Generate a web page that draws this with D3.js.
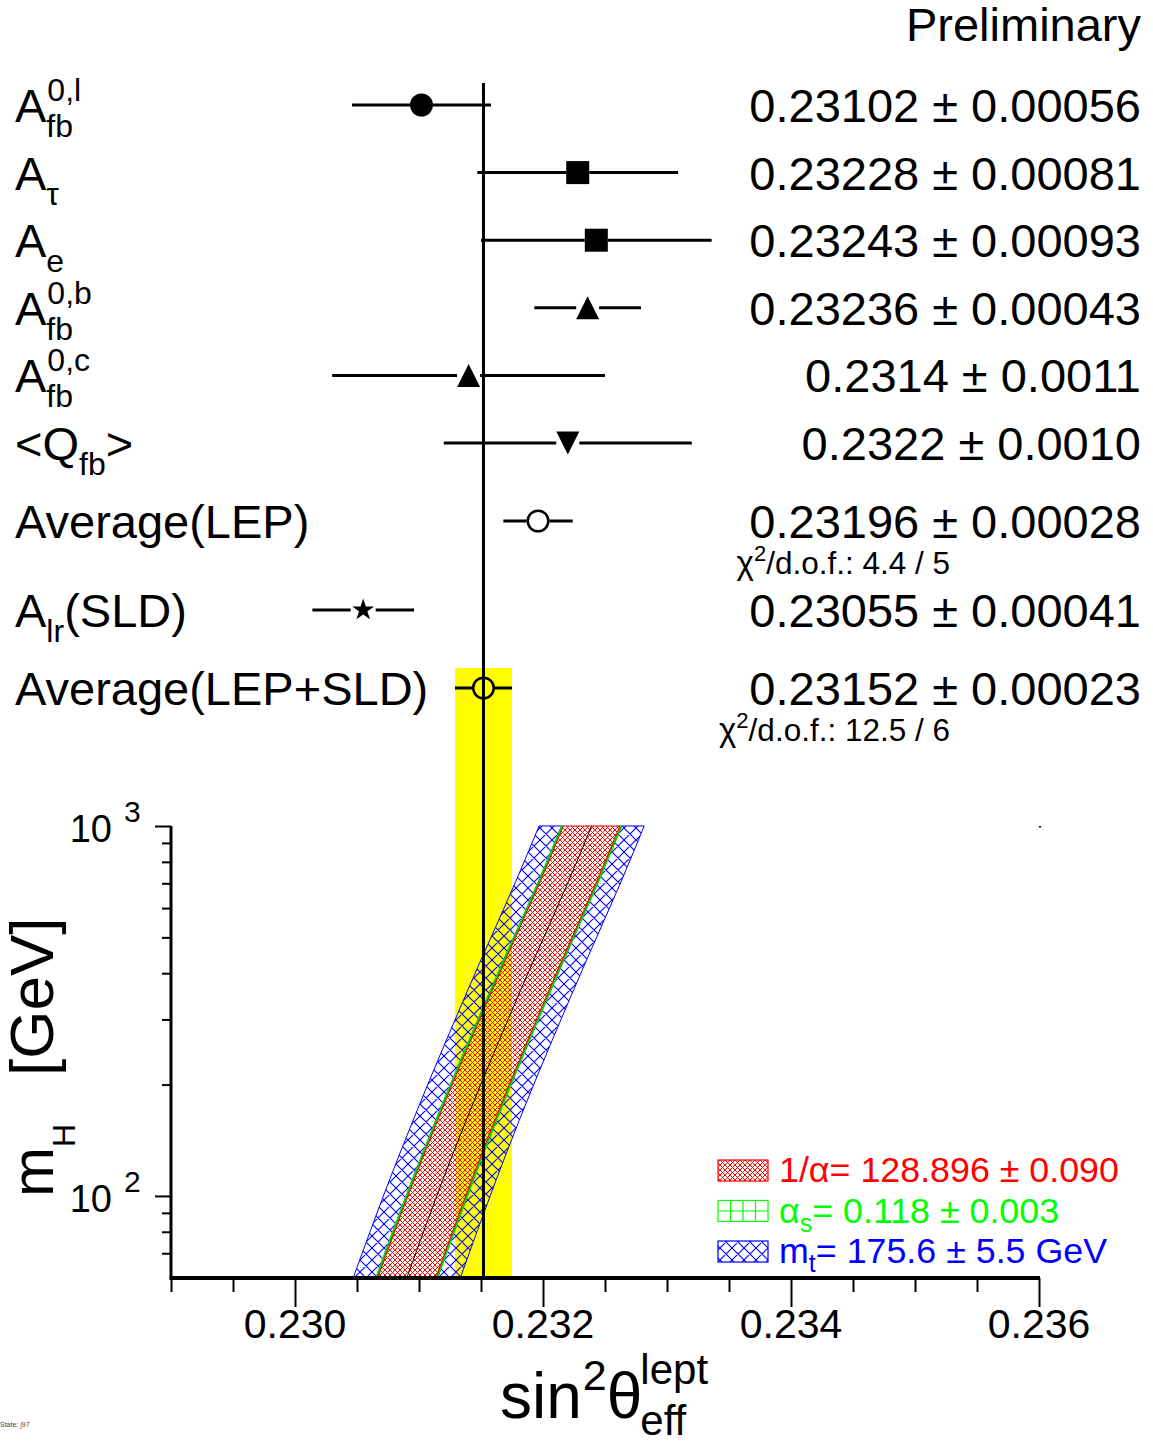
<!DOCTYPE html>
<html>
<head>
<meta charset="utf-8">
<script src="https://cdn.jsdelivr.net/npm/d3@7"></script>
<style>
  html, body { margin: 0; padding: 0; background: #fff; }
  svg { display: block; font-family: "Liberation Sans", Arial, Helvetica, sans-serif; }
</style>
</head>
<body>
<svg id="chart" width="1153" height="1442"></svg>
<script>
// ---- sin^2(theta_eff^lept) determinations ----
const measLabels = [
  { base: "A", sup: "0,l", sub: "fb" },
  { base: "A", sub: "τ" },
  { base: "A", sub: "e" },
  { base: "A", sup: "0,b", sub: "fb" },
  { base: "A", sup: "0,c", sub: "fb" },
  { base: "<Q", sub: "fb", tail: ">" },
  { base: "Average(LEP)" },
  { base: "A", sub: "lr", tail: "(SLD)" },
  { base: "Average(LEP+SLD)" }
];
const measValues   = [0.23102, 0.23228, 0.23243, 0.23236, 0.2314, 0.2322, 0.23196, 0.23055, 0.23152];
const measErrors   = [0.00056, 0.00081, 0.00093, 0.00043, 0.0011, 0.0010, 0.00028, 0.00041, 0.00023];
const measDecimals = [5, 5, 5, 5, 4, 4, 5, 5, 5];
const measMarkers  = ["circle", "square", "square", "triangleUp", "triangleUp", "triangleDown", "openCircle", "star", "openCircle"];
const measIsAverage = [false, false, false, false, false, false, true, false, true];
const measChi2     = [null, null, null, null, null, null, "4.4 / 5", null, "12.5 / 6"];

// ---- Standard Model prediction versus Higgs mass ----
const mhGrid    = [60, 110, 160, 264, 434, 714, 1000];
const smCentre  = [0.230901, 0.231190, 0.231380, 0.231648, 0.231925, 0.232210, 0.232392];
const halfAlpha = [0.000236, 0.000234, 0.000232, 0.000231, 0.000230, 0.000229, 0.000230];
const halfAlphaS = [0.000248, 0.000246, 0.000244, 0.000243, 0.000242, 0.000241, 0.000242];
const halfMt    = [0.000432, 0.000430, 0.000428, 0.000427, 0.000426, 0.000425, 0.000424];

const legendEntries = [
  { pre: "1/α", sub: "",  rest: "= 128.896 ± 0.090", colour: "#ff0000", kind: "alpha" },
  { pre: "α",   sub: "s", rest: "= 0.118 ± 0.003",   colour: "#00ff00", kind: "alphas" },
  { pre: "m",   sub: "t", rest: "= 175.6 ± 5.5 GeV", colour: "#0000ff", kind: "mt" }
];

const xMajorTicks = [0.230, 0.232, 0.234, 0.236];
const xMinorTicks = [0.229, 0.2295, 0.2305, 0.231, 0.2315, 0.2325, 0.233, 0.2335, 0.2345, 0.235, 0.2355];
const yMajorTicks = [100, 1000];
const yMajorExp   = ["2", "3"];
const yMinorTicks = [70, 80, 90, 200, 300, 400, 500, 600, 700, 800, 900];

// ------------------------------------------------------------------
const svg = d3.select("#chart");
const defs = svg.append("defs");

const x = d3.scaleLinear().domain([0.229, 0.236]).range([171, 1039]);
const y = d3.scaleLog().domain([60, 1000]).range([1278, 826]);

// cross-hatch fill patterns
function crossHatch(id, p, colour, sw) {
  const pat = defs.append("pattern").attr("id", id)
    .attr("patternUnits", "userSpaceOnUse").attr("width", p).attr("height", p);
  pat.append("path")
    .attr("d", `M0,0L${p},${p}M-1,${p - 1}L1,${p + 1}M${p - 1},-1L${p + 1},1` +
               `M0,${p}L${p},0M-1,1L1,-1M${p - 1},${p + 1}L${p + 1},${p - 1}`)
    .attr("stroke", colour).attr("stroke-width", sw).attr("fill", "none");
}
crossHatch("hatchRed", 5, "#ff0000", 1.0);
crossHatch("hatchBlue", 12, "#0000ff", 1.1);
{
  const pat = defs.append("pattern").attr("id", "gridGreen")
    .attr("patternUnits", "userSpaceOnUse").attr("width", 12).attr("height", 10);
  pat.append("path").attr("d", "M0.5,0V10M0,0.5H12")
    .attr("stroke", "#00ff00").attr("stroke-width", 1).attr("fill", "none");
}

// ---- row layout of the upper panel ----
const rowStep = 67.6;
const rowY = [];
{
  let yy = 105;
  measValues.forEach((v, i) => {
    if (i > 0) {
      yy += rowStep;
      if (measIsAverage[i]) yy += 10.4;
      if (measChi2[i - 1]) yy += 21.4;
    }
    rowY.push(yy);
  });
}

const xRef = x(measValues[8]);
const refErr = measErrors[8];

// yellow band of the combined average
svg.append("rect")
  .attr("x", x(measValues[8] - refErr))
  .attr("width", x(measValues[8] + refErr) - x(measValues[8] - refErr))
  .attr("y", rowY[8] - 20)
  .attr("height", y(60) - (rowY[8] - 20))
  .attr("fill", "#ffff00");

// ---- SM bands ----
const pts = mhGrid.map((m, i) => ({
  m, c: smCentre[i], a: halfAlpha[i], s: halfAlphaS[i], t: halfMt[i]
}));
const bandArea = (lo, hi) => d3.area()
  .y(d => y(d.m)).x0(d => x(lo(d))).x1(d => x(hi(d)))
  .curve(d3.curveMonotoneY)(pts);

const bands = svg.append("g");
// m_t band (outer strips)
bands.append("path").attr("d", bandArea(d => d.c - d.t, d => d.c - d.s))
  .attr("fill", "url(#hatchBlue)").attr("stroke", "#0000ff").attr("stroke-width", 1);
bands.append("path").attr("d", bandArea(d => d.c + d.s, d => d.c + d.t))
  .attr("fill", "url(#hatchBlue)").attr("stroke", "#0000ff").attr("stroke-width", 1);
// alpha_s band (thin strips)
bands.append("path").attr("d", bandArea(d => d.c - d.s, d => d.c - d.a))
  .attr("fill", "url(#gridGreen)").attr("stroke", "#00dd00").attr("stroke-width", 1.5);
bands.append("path").attr("d", bandArea(d => d.c + d.a, d => d.c + d.s))
  .attr("fill", "url(#gridGreen)").attr("stroke", "#00dd00").attr("stroke-width", 1.5);
// alpha band (inner)
bands.append("path").attr("d", bandArea(d => d.c - d.a, d => d.c + d.a))
  .attr("fill", "url(#hatchRed)").attr("stroke", "#ff0000").attr("stroke-width", 1);
// central prediction
bands.append("path")
  .attr("d", d3.line().y(d => y(d.m)).x(d => x(d.c)).curve(d3.curveMonotoneY)(pts))
  .attr("fill", "none").attr("stroke", "#000").attr("stroke-width", 1);

// ---- measurements ----
const upper = svg.append("g");
const markerHalf = 11.5;

function drawMarker(g, kind, cx, cy) {
  const r = markerHalf;
  if (kind === "circle") {
    g.append("circle").attr("cx", cx).attr("cy", cy).attr("r", r).attr("fill", "#000");
  } else if (kind === "openCircle") {
    g.append("circle").attr("cx", cx).attr("cy", cy).attr("r", r - 1.2)
      .attr("fill", "none").attr("stroke", "#000").attr("stroke-width", 2.5);
  } else if (kind === "square") {
    g.append("rect").attr("x", cx - r).attr("y", cy - r).attr("width", 2 * r).attr("height", 2 * r).attr("fill", "#000");
  } else if (kind === "triangleUp") {
    g.append("path").attr("d", `M${cx - r},${cy + r}L${cx + r},${cy + r}L${cx},${cy - r}Z`).attr("fill", "#000");
  } else if (kind === "triangleDown") {
    g.append("path").attr("d", `M${cx - r},${cy - r}L${cx + r},${cy - r}L${cx},${cy + r}Z`).attr("fill", "#000");
  } else if (kind === "star") {
    g.append("path").attr("transform", `translate(${cx},${cy})`)
      .attr("d", d3.symbol().type(d3.symbolStar).size(150)()).attr("fill", "#000");
  }
}

measValues.forEach((v, i) => {
  const cy = rowY[i];
  const cx = x(v);
  const e = measErrors[i];
  const gap = measMarkers[i] === "star" ? 12.5 : markerHalf;
  upper.append("line").attr("x1", x(v - e)).attr("x2", cx - gap).attr("y1", cy).attr("y2", cy)
    .attr("stroke", "#000").attr("stroke-width", 3);
  upper.append("line").attr("x1", cx + gap).attr("x2", x(v + e)).attr("y1", cy).attr("y2", cy)
    .attr("stroke", "#000").attr("stroke-width", 3);
  drawMarker(upper, measMarkers[i], cx, cy);
});

// vertical reference line
svg.append("line").attr("x1", xRef).attr("x2", xRef).attr("y1", 83).attr("y2", y(60))
  .attr("stroke", "#000").attr("stroke-width", 3);

// labels on the left
const labelSize = 47, smallSize = 32;
measLabels.forEach((lab, i) => {
  const base = rowY[i] + 17;
  const t = upper.append("text").attr("x", 15).attr("y", base).attr("font-size", labelSize).text(lab.base);
  let xe = 15 + t.node().getComputedTextLength();
  let w = 0;
  if (lab.sup) {
    const s = upper.append("text").attr("x", xe + 1).attr("y", base - 21).attr("font-size", smallSize).text(lab.sup);
    w = Math.max(w, s.node().getComputedTextLength());
  }
  if (lab.sub) {
    const s = upper.append("text").attr("x", xe).attr("y", base + 15).attr("font-size", smallSize).text(lab.sub);
    w = Math.max(w, s.node().getComputedTextLength());
  }
  if (lab.tail) {
    upper.append("text").attr("x", xe + w).attr("y", base).attr("font-size", labelSize).text(lab.tail);
  }
});

// values on the right
measValues.forEach((v, i) => {
  const f = d3.format(`.${measDecimals[i]}f`);
  upper.append("text").attr("x", 1141).attr("y", rowY[i] + 17).attr("text-anchor", "end")
    .attr("font-size", labelSize).text(`${f(v)} ± ${f(measErrors[i])}`);
  if (measChi2[i]) {
    const t = upper.append("text").attr("x", 950).attr("y", rowY[i] + 53).attr("text-anchor", "end")
      .attr("font-size", 31.5);
    t.append("tspan").attr("font-size", 33).text("χ");
    t.append("tspan").attr("font-size", 22).attr("dy", -13).text("2");
    t.append("tspan").attr("dy", 13).text(`/d.o.f.: ${measChi2[i]}`);
  }
});

svg.append("text").attr("x", 1141).attr("y", 41).attr("text-anchor", "end")
  .attr("font-size", labelSize).text("Preliminary");

// ---- axes of the lower panel ----
const axes = svg.append("g");
const xMinorAxis = d3.axisBottom(x).tickValues(xMinorTicks).tickSize(14).tickSizeOuter(0).tickFormat("");
const xMajorAxis = d3.axisBottom(x).tickValues(xMajorTicks).tickSize(29).tickSizeOuter(0).tickFormat("");
[xMinorAxis, xMajorAxis].forEach(ax => {
  const g = axes.append("g").attr("transform", `translate(0,${y(60)})`).call(ax);
  g.select(".domain").remove();
  g.selectAll(".tick line").attr("stroke", "#000").attr("stroke-width", 2);
});
axes.append("line").attr("x1", x(0.229) - 1.5).attr("x2", x(0.236) + 1)
  .attr("y1", y(60)).attr("y2", y(60)).attr("stroke", "#000").attr("stroke-width", 4);
xMajorTicks.forEach(t => {
  axes.append("text").attr("x", x(t)).attr("y", 1338).attr("text-anchor", "middle")
    .attr("font-size", 41).text(d3.format(".3f")(t));
});

const yMinorAxis = d3.axisLeft(y).tickValues(yMinorTicks).tickSize(9).tickSizeOuter(0).tickFormat("");
const yMajorAxis = d3.axisLeft(y).tickValues(yMajorTicks).tickSize(16).tickSizeOuter(0).tickFormat("");
[yMinorAxis, yMajorAxis].forEach(ax => {
  const g = axes.append("g").attr("transform", `translate(${x(0.229)},0)`).call(ax);
  g.select(".domain").remove();
  g.selectAll(".tick line").attr("stroke", "#000").attr("stroke-width", 2);
});
axes.append("line").attr("x1", x(0.229)).attr("x2", x(0.229))
  .attr("y1", y(1000)).attr("y2", y(60)).attr("stroke", "#000").attr("stroke-width", 3);
yMajorTicks.forEach((t, i) => {
  axes.append("text").attr("x", 112).attr("y", y(t) + 16).attr("text-anchor", "end")
    .attr("font-size", 38).text("10");
  axes.append("text").attr("x", 124).attr("y", y(t) - 4)
    .attr("font-size", 30).text(yMajorExp[i]);
});
// frame corner mark
axes.append("rect").attr("x", x(0.236)).attr("y", y(1000)).attr("width", 2).attr("height", 1.5).attr("fill", "#000");

// x title: sin^2 theta_eff^lept
{
  const bx = 500, by = 1418;
  const t1 = axes.append("text").attr("x", bx).attr("y", by).attr("font-size", 64).text("sin");
  let xe = bx + t1.node().getComputedTextLength();
  const t2 = axes.append("text").attr("x", xe + 1).attr("y", by - 28).attr("font-size", 43).text("2");
  xe += 1 + t2.node().getComputedTextLength();
  const t3 = axes.append("text").attr("x", xe).attr("y", by).attr("font-size", 64).text("θ");
  xe += t3.node().getComputedTextLength();
  axes.append("text").attr("x", xe - 2).attr("y", by - 34).attr("font-size", 42).text("lept");
  axes.append("text").attr("x", xe - 2).attr("y", by + 17).attr("font-size", 42).text("eff");
}

// y title: m_H [GeV]
{
  const g = axes.append("g").attr("transform", "translate(53,1197) rotate(-90)");
  g.append("text").attr("x", 0).attr("y", 0).attr("font-size", 60).text("m");
  g.append("text").attr("x", 50).attr("y", 22).attr("font-size", 32).text("H");
  g.append("text").attr("x", 121).attr("y", 0).attr("font-size", 62).text("[GeV]");
}

// ---- legend ----
const legend = svg.append("g");
legendEntries.forEach((d, i) => {
  const base = 1182 + i * 40.5;
  const bx = 718, bw = 50, bh = 21, byTop = base - 22;
  if (d.kind === "alpha") {
    legend.append("rect").attr("x", bx).attr("y", byTop).attr("width", bw).attr("height", bh)
      .attr("fill", "url(#hatchRed)").attr("stroke", d.colour).attr("stroke-width", 1.2);
  } else if (d.kind === "mt") {
    legend.append("rect").attr("x", bx).attr("y", byTop).attr("width", bw).attr("height", bh)
      .attr("fill", "url(#hatchBlue)").attr("stroke", d.colour).attr("stroke-width", 1.2);
  } else {
    legend.append("rect").attr("x", bx).attr("y", byTop).attr("width", bw).attr("height", bh)
      .attr("fill", "none").attr("stroke", d.colour).attr("stroke-width", 1.2);
    const gp = d3.path();
    for (let k = 1; k < 4; k++) { gp.moveTo(bx + k * bw / 4, byTop); gp.lineTo(bx + k * bw / 4, byTop + bh); }
    gp.moveTo(bx, byTop + bh / 2); gp.lineTo(bx + bw, byTop + bh / 2);
    legend.append("path").attr("d", gp.toString()).attr("stroke", d.colour).attr("stroke-width", 1.2).attr("fill", "none");
  }
  const t = legend.append("text").attr("x", 779).attr("y", base).attr("font-size", 35.8).attr("fill", d.colour);
  t.append("tspan").text(d.pre);
  if (d.sub) {
    t.append("tspan").attr("font-size", 25).attr("dy", 9).text(d.sub);
    t.append("tspan").attr("dy", -9).text(d.rest);
  } else {
    t.append("tspan").text(d.rest);
  }
});

// run tag
svg.append("text").attr("x", 0).attr("y", 1427).attr("font-size", 7).attr("fill", "#444").text("State: j97");
</script>
</body>
</html>
